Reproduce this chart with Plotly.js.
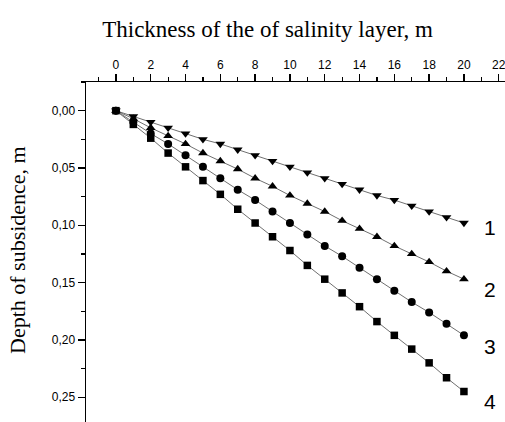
<!DOCTYPE html>
<html>
<head>
<meta charset="utf-8">
<script src="https://cdn.plot.ly/plotly-3.0.1.min.js"></script>
<style>html,body{margin:0;padding:0;background:#fff;}#chart{width:505px;height:422px;}</style>
</head>
<body>
<div id="chart"></div>
<script>
const thickness = [0,1,2,3,4,5,6,7,8,9,10,11,12,13,14,15,16,17,18,19,20];
const series1 = [0,0.005,0.010,0.015,0.020,0.025,0.029,0.034,0.039,0.044,0.049,0.054,0.059,0.064,0.069,0.074,0.078,0.083,0.088,0.093,0.098];
const series2 = [0,0.007,0.015,0.022,0.029,0.037,0.044,0.051,0.059,0.066,0.074,0.081,0.088,0.096,0.103,0.110,0.118,0.125,0.132,0.140,0.147];
const series3 = [0,0.010,0.020,0.029,0.039,0.049,0.059,0.069,0.078,0.088,0.098,0.108,0.118,0.127,0.137,0.147,0.157,0.167,0.176,0.186,0.196];
const series4 = [0,0.012,0.024,0.037,0.049,0.061,0.073,0.086,0.098,0.110,0.122,0.135,0.147,0.159,0.171,0.184,0.196,0.208,0.220,0.233,0.245];
const seriesLabels = ['1','2','3','4'];
const labelY = [0.1015,0.156,0.206,0.254];
const labelX = 21.5;

const allSeries = [series1, series2, series3, series4];
const symbols = ['triangle-down','triangle-up','circle','square'];
const sizes = [8.5,8.5,8,7.5];

const traces = allSeries.map((s,i)=>({
  x: thickness, y: s, type:'scatter', mode:'lines+markers',
  line:{color:'#707070', width:1},
  marker:{symbol:symbols[i], size:sizes[i], color:'#000', line:{width:0}},
  showlegend:false, cliponaxis:false
}));

const annotations = seriesLabels.map((t,i)=>({
  x: labelX, y: labelY[i], xref:'x', yref:'y', text:t, showarrow:false,
  font:{family:'Liberation Sans, Arial, sans-serif', size:21, color:'#000'},
  xanchor:'center', yanchor:'middle'
}));
annotations.push({
  xref:'paper', yref:'paper', x:(17-86)/419, y:(422-250)/340, text:'Depth of subsidence, m',
  textangle:-90, showarrow:false, xanchor:'center', yanchor:'middle',
  font:{family:'Liberation Serif, Times New Roman, serif', size:22, color:'#000'}
});

const layout = {
  width:505, height:422,
  margin:{l:86, r:0, t:82, b:0},
  paper_bgcolor:'#fff', plot_bgcolor:'#fff',
  separators:',.',
  title:{text:'Thickness of the of salinity layer, m', x:267.5/505, xref:'container', xanchor:'center', y:1-29/422, yanchor:'middle',
    font:{family:'Liberation Serif, Times New Roman, serif', size:23, color:'#000'}},
  xaxis:{side:'top', range:[-1.72,22.36], tickvals:[0,2,4,6,8,10,12,14,16,18,20,22], ticks:'outside', ticklen:7, tickwidth:1.3, tickcolor:'#000',
    showline:true, linewidth:1.5, linecolor:'#000', showgrid:false, zeroline:false, ticklabeloverflow:'allow',
    minor:{dtick:1, tick0:0, ticks:'outside', ticklen:3.5, tickwidth:1.2, tickcolor:'#000', showgrid:false},
    tickfont:{family:'Liberation Sans, Arial, sans-serif', size:12, color:'#000'}},
  yaxis:{range:[0.2716,-0.025], tickvals:[0,0.05,0.10,0.15,0.20,0.25], tickformat:'.2f', ticks:'outside', ticklen:7, tickwidth:1.3, tickcolor:'#000',
    showline:true, linewidth:1.5, linecolor:'#000', showgrid:false, zeroline:false,
    minor:{dtick:0.025, tick0:0, ticks:'outside', ticklen:3.5, tickwidth:1.2, tickcolor:'#000', showgrid:false},
    tickfont:{family:'Liberation Sans, Arial, sans-serif', size:12, color:'#000'}},
  annotations: annotations
};

Plotly.newPlot('chart', traces, layout, {staticPlot:true, displayModeBar:false});
</script>
</body>
</html>
